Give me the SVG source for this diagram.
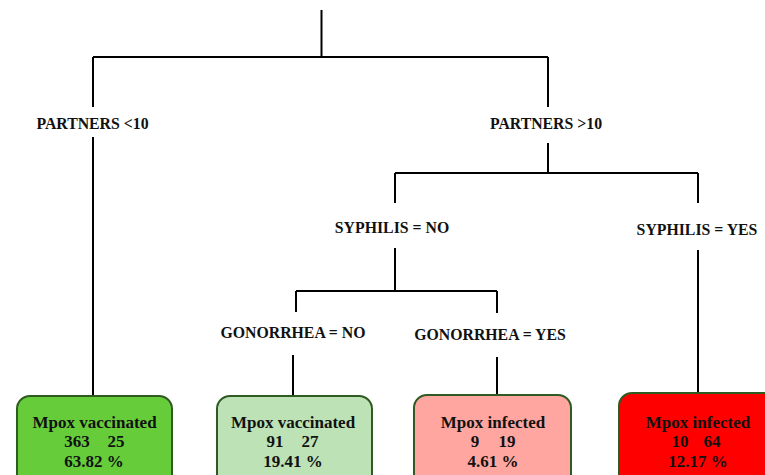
<svg xmlns="http://www.w3.org/2000/svg" width="765" height="475" viewBox="0 0 765 475">
<style>
.lbl{font-family:"Liberation Serif","Times New Roman",serif;font-weight:bold;font-size:15.8px;fill:#111;text-anchor:middle}
.bt{font-family:"Liberation Serif","Times New Roman",serif;font-weight:bold;font-size:17px;fill:#111;text-anchor:middle}
.box{stroke:#2f5a22;stroke-width:2}
.ln{stroke:#000;stroke-width:2;fill:none}
</style>
<rect width="765" height="475" fill="#fff"/>
<g id="connectors" class="ln">
<path d="M321.5 10V57M93 57H548M93 57V107M93 137V396"/>
<path d="M548 57V107M548 143V173M395 173H698M395 173V203M698 173V203"/>
<path d="M395 248V291M296 291H497M296 291V312M497 291V313"/>
<path d="M293 355V396M497 357V395M698 250V393"/>
</g>
<g id="n-partners-lt10"><text class="lbl" x="92.5" y="129">PARTNERS &lt;10</text></g>
<g id="n-partners-gt10"><text class="lbl" x="546" y="129">PARTNERS &gt;10</text></g>
<g id="n-syphilis-no"><text class="lbl" x="392" y="233">SYPHILIS = NO</text></g>
<g id="n-syphilis-yes"><text class="lbl" x="697" y="235">SYPHILIS = YES</text></g>
<g id="n-gonorrhea-no"><text class="lbl" x="293" y="338">GONORRHEA = NO</text></g>
<g id="n-gonorrhea-yes"><text class="lbl" x="490" y="340">GONORRHEA = YES</text></g>
<g id="leaf1">
<rect class="box" x="17" y="396" width="155" height="95" rx="13" fill="#66cc3a"/>
<text class="bt" x="94.5" y="428">Mpox vaccinated</text>
<text class="bt" x="77" y="447">363</text><text class="bt" x="116" y="447">25</text>
<text class="bt" x="94" y="467">63.82 %</text>
</g>
<g id="leaf2">
<rect class="box" x="217" y="396" width="155" height="95" rx="13" fill="#bce2b6"/>
<text class="bt" x="293" y="428">Mpox vaccinated</text>
<text class="bt" x="275" y="447">91</text><text class="bt" x="310" y="447">27</text>
<text class="bt" x="293" y="467">19.41 %</text>
</g>
<g id="leaf3">
<rect class="box" x="414" y="395" width="157" height="95" rx="13" fill="#ffa6a0"/>
<text class="bt" x="493" y="428">Mpox infected</text>
<text class="bt" x="475" y="447">9</text><text class="bt" x="507" y="447">19</text>
<text class="bt" x="493" y="467">4.61 %</text>
</g>
<g id="leaf4">
<rect class="box" x="619" y="393" width="160" height="97" rx="13" fill="#ff0000"/>
<text class="bt" x="698" y="428">Mpox infected</text>
<text class="bt" x="680" y="447">10</text><text class="bt" x="712" y="447">64</text>
<text class="bt" x="698" y="467">12.17 %</text>
</g>
</svg>
